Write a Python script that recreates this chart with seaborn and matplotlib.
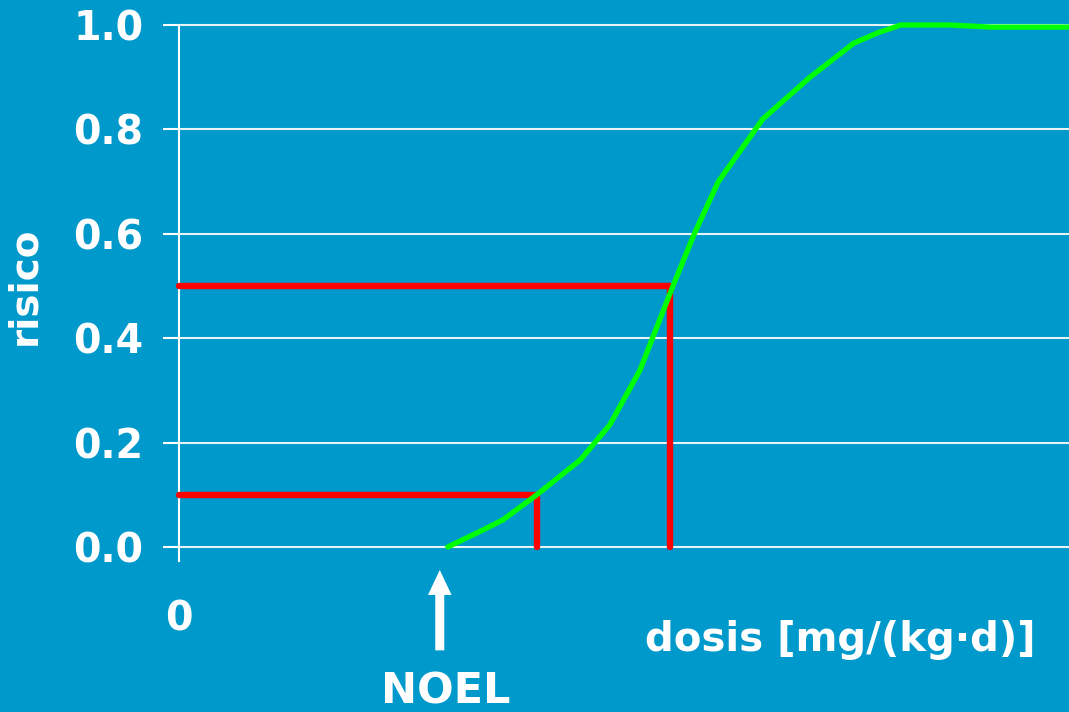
import numpy as np
import pandas as pd
import matplotlib
matplotlib.use("Agg")
import matplotlib.pyplot as plt
import seaborn as sns

# dose-response curve (dose in arbitrary units, risk 0..1)
dose = [3.02, 3.42, 3.64, 4.02, 4.51, 4.84, 5.18, 5.40, 5.55, 5.79, 6.06,
        6.56, 7.09, 7.58, 7.85, 8.11, 8.66, 9.12, 10.0]
risk = [0.0, 0.033, 0.052, 0.10, 0.167, 0.234, 0.339, 0.435, 0.50, 0.60, 0.70,
        0.82, 0.90, 0.965, 0.985, 1.0, 1.0, 0.996, 0.996]

# red guide lines: risk level -> dose
guide_risk = [0.1, 0.5]
guide_dose = [4.02, 5.52]

noel_dose = 2.93
y_ticks = [0.0, 0.2, 0.4, 0.6, 0.8, 1.0]
y_labels = ["0.0", "0.2", "0.4", "0.6", "0.8", "1.0"]

BG = "#0099CC"
FONT = ["DejaVu Sans"]

sns.set_style("white")
plt.rcParams["font.family"] = FONT
plt.rcParams["font.weight"] = "bold"

fig = plt.figure(figsize=(10.69, 7.12), dpi=100, facecolor=BG)
ax = fig.add_axes([179 / 1069, 1 - 547 / 712, 1 - 179 / 1069, 522 / 712])
ax.set_facecolor(BG)

df = pd.DataFrame({"dose": dose, "risk": risk})

ax.set_xlim(0, 10)
ax.set_ylim(0, 1)

# grid
for y in y_ticks:
    ax.axhline(y, color="white", lw=1.5, alpha=0.9, zorder=1, clip_on=False)

# red threshold lines
for r, d in zip(guide_risk, guide_dose):
    ax.plot([0, d, d], [r, r, 0], color="#FF0000", lw=4.6,
            solid_joinstyle="miter", zorder=3, clip_on=False)

sns.lineplot(data=df, x="dose", y="risk", color="#00FF00", lw=3.8,
             ax=ax, zorder=4, sort=False)
for l in ax.lines[-1:]:
    l.set_clip_on(False)

# axes styling
for s in ["top", "right", "bottom"]:
    ax.spines[s].set_visible(False)
ax.spines["left"].set_color("white")
ax.spines["left"].set_linewidth(1.5)

ax.set_yticks(y_ticks)
ax.set_yticklabels(y_labels)
ax.set_xticks([0])
ax.set_xticklabels(["0"])
ax.tick_params(axis="y", colors="white", length=11.5, width=1.5,
               pad=14, labelsize=28.5, labelcolor="white", left=True)
ax.tick_params(axis="x", colors="white", length=11, width=1.5,
               pad=27, labelsize=28.5, labelcolor="white", bottom=True)
for t in ax.get_xticklabels() + ax.get_yticklabels():
    t.set_fontweight("bold")

ax.set_xlabel("")
ax.set_ylabel("risico", color="white", fontsize=28, fontweight="bold")
ax.yaxis.set_label_coords(-0.152, 0.5)

ax.text(7.43, -0.178, "dosis [mg/(kg·d)]", color="white", fontsize=29,
        fontweight="bold", ha="center", va="center", clip_on=False)

# NOEL arrow
ax.annotate("", xy=(noel_dose, -0.044), xytext=(noel_dose, -0.198),
            arrowprops=dict(width=6.5, headwidth=17, headlength=18,
                            shrink=0, color="white", lw=0),
            annotation_clip=False)
ax.text(noel_dose + 0.07, -0.276, "NOEL", color="white", fontsize=31,
        fontweight="bold", ha="center", va="center", clip_on=False)

fig.savefig("out.png", dpi=100, facecolor=BG)
